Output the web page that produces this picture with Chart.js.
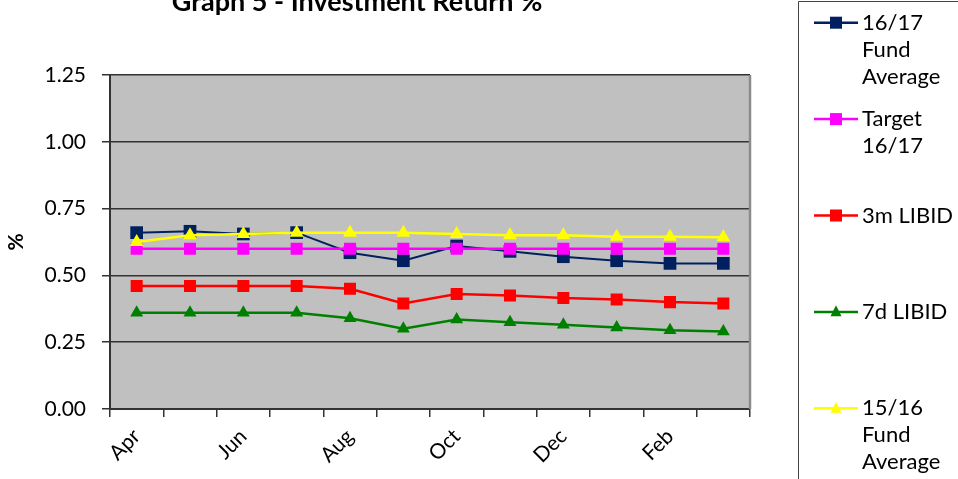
<!DOCTYPE html>
<html>
<head>
<meta charset="utf-8">
<script src="https://cdn.jsdelivr.net/npm/chart.js@4.4.1/dist/chart.umd.min.js"></script>
<style>
  html, body { margin: 0; padding: 0; background: #fff; }
  #wrap { position: relative; width: 958px; height: 479px; }
</style>
</head>
<body>
<div id="wrap"><canvas id="lineChart" width="958" height="479"></canvas></div>
<script>
const months = ['Apr', 'May', 'Jun', 'Jul', 'Aug', 'Sep', 'Oct', 'Nov', 'Dec', 'Jan', 'Feb', 'Mar'];
const fund1617 = [0.66, 0.665, 0.655, 0.66, 0.585, 0.555, 0.61, 0.59, 0.57, 0.555, 0.545, 0.545];
const target1617 = [0.60, 0.60, 0.60, 0.60, 0.60, 0.60, 0.60, 0.60, 0.60, 0.60, 0.60, 0.60];
const libid3m = [0.46, 0.46, 0.46, 0.46, 0.45, 0.395, 0.43, 0.425, 0.415, 0.41, 0.40, 0.395];
const libid7d = [0.36, 0.36, 0.36, 0.36, 0.34, 0.30, 0.335, 0.325, 0.315, 0.305, 0.295, 0.29];
const fund1516 = [0.625, 0.65, 0.655, 0.66, 0.66, 0.66, 0.655, 0.65, 0.65, 0.645, 0.645, 0.643];
const yTicks = [0, 0.25, 0.5, 0.75, 1.0, 1.25];
const legendLines = [
    ['16/17', 'Fund', 'Average'],
    ['Target', '16/17'],
    ['3m LIBID'],
    ['7d LIBID'],
    ['15/16', 'Fund', 'Average']
];
const chartTitle = 'Graph 5 - Investment Return %';

const FONT = 'Lato';

function drawMarker(ctx, style, x, y, size, color) {
    ctx.fillStyle = color;
    ctx.beginPath();
    if (style === 'rect') {
        ctx.rect(x - size / 2, y - size / 2, size, size);
    } else {
        ctx.moveTo(x, y - size * 0.6);
        ctx.lineTo(x + size / 2, y + size * 0.4);
        ctx.lineTo(x - size / 2, y + size * 0.4);
        ctx.closePath();
    }
    ctx.fill();
}

const decorPlugin = {
    id: 'decor',
    beforeDraw(chart) {
        const ctx = chart.ctx;
        const a = chart.chartArea;
        ctx.save();
        ctx.fillStyle = '#c0c0c0';
        ctx.fillRect(a.left, a.top, a.right - a.left, a.bottom - a.top);
        ctx.restore();
    },
    beforeDatasetsDraw(chart) {
        const ctx = chart.ctx;
        const a = chart.chartArea;
        ctx.save();
        ctx.strokeStyle = '#8a8a8a';
        ctx.lineWidth = 2.5;
        ctx.beginPath();
        ctx.moveTo(a.right, a.top);
        ctx.lineTo(a.right, a.bottom);
        ctx.stroke();
        ctx.restore();
    },
    afterDraw(chart) {
        const ctx = chart.ctx;
        ctx.save();
        // title, cut off at the top like the original
        ctx.font = 'bold 27px ' + FONT;
        ctx.fillStyle = '#000';
        ctx.textAlign = 'center';
        ctx.textBaseline = 'alphabetic';
        ctx.fillText(chartTitle, 357, 11);

        // legend box
        ctx.strokeStyle = '#444';
        ctx.lineWidth = 1;
        ctx.beginPath();
        ctx.moveTo(798.5, 490);
        ctx.lineTo(798.5, 1.5);
        ctx.lineTo(970, 1.5);
        ctx.stroke();

        ctx.font = '22px ' + FONT;
        ctx.textAlign = 'left';
        ctx.textBaseline = 'middle';
        chart.data.datasets.forEach(function(ds, i) {
            const y = 22.7 + i * 96.4;
            ctx.strokeStyle = ds.borderColor;
            ctx.lineWidth = 2.5;
            ctx.beginPath();
            ctx.moveTo(814, y);
            ctx.lineTo(858, y);
            ctx.stroke();
            drawMarker(ctx, ds.pointStyle, 836, y, ds.pointStyle === 'rect' ? 12 : 11, ds.pointBackgroundColor);
            ctx.fillStyle = '#000';
            legendLines[i].forEach(function(line, j) {
                ctx.fillText(line, 862, y + j * 27);
            });
        });
        ctx.restore();
    }
};

function series(label, data, color, style, radius, order, width) {
    return {
        label: label,
        data: data,
        borderColor: color,
        backgroundColor: color,
        pointBackgroundColor: color,
        pointBorderColor: color,
        pointBorderWidth: 0,
        pointStyle: style,
        pointRadius: radius,
        borderWidth: width,
        fill: false,
        tension: 0,
        order: order
    };
}

new Chart(document.getElementById('lineChart'), {
    type: 'line',
    data: {
        labels: months,
        datasets: [
            series('16/17 Fund Average', fund1617, '#002060', 'rect', 9, 5, 2),
            series('Target 16/17', target1617, '#ff00ff', 'rect', 8.5, 4, 2.5),
            series('3m LIBID', libid3m, '#ff0000', 'rect', 8.5, 3, 2.5),
            series('7d LIBID', libid7d, '#008000', 'triangle', 7.5, 2, 2.5),
            series('15/16 Fund Average', fund1516, '#ffff00', 'triangle', 8, 1, 2.5)
        ]
    },
    options: {
        responsive: false,
        animation: false,
        layout: { padding: { top: 75, right: 208, left: 0, bottom: 0 } },
        plugins: {
            legend: { display: false },
            title: { display: false },
            tooltip: { enabled: false }
        },
        scales: {
            x: {
                offset: true,
                grid: {
                    offset: true,
                    drawOnChartArea: false,
                    drawTicks: true,
                    tickLength: 8,
                    color: '#333',
                    lineWidth: 1.5
                },
                border: { color: '#333', width: 2 },
                ticks: {
                    autoSkip: false,
                    maxRotation: 45,
                    minRotation: 45,
                    padding: 7,
                    color: '#000',
                    font: { family: FONT, size: 21 },
                    callback: function(v, i) {
                        return i % 2 === 0 ? months[i] : '';
                    }
                },
                afterFit: function(scale) { scale.height = 70; }
            },
            y: {
                min: 0,
                max: 1.25,
                afterBuildTicks: function(scale) {
                    scale.ticks = yTicks.map(function(v) { return { value: v }; });
                },
                grid: {
                    color: '#333',
                    lineWidth: 1.5,
                    tickLength: 8
                },
                border: { color: '#333', width: 2 },
                ticks: {
                    padding: 16,
                    color: '#000',
                    font: { family: FONT, size: 21 },
                    callback: function(v) { return v.toFixed(2); }
                },
                title: {
                    display: true,
                    text: '%',
                    color: '#000',
                    font: { family: FONT, size: 21, weight: 'bold' }
                },
                afterFit: function(scale) { scale.width = 110; }
            }
        }
    },
    plugins: [decorPlugin]
});
</script>
</body>
</html>
